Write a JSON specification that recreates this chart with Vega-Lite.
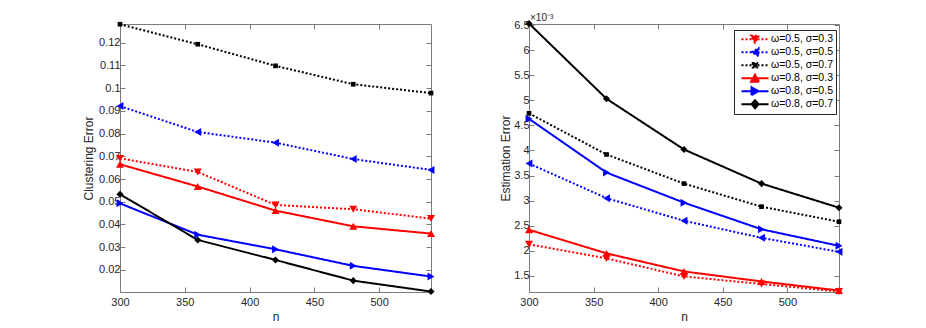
{
  "$schema": "https://vega.github.io/schema/vega-lite/v6.json",
  "background": "white",
  "padding": {"left": 82, "top": 12, "right": 5, "bottom": 2},
  "config": {
    "font": "Liberation Sans",
    "view": {"stroke": "#7a7a7a", "strokeWidth": 1},
    "axis": {
      "domain": false,
      "grid": false,
      "tickSize": -5,
      "tickColor": "#7a7a7a",
      "labelFontSize": 11,
      "labelColor": "#262626",
      "titleFontSize": 12,
      "titleFontWeight": "normal",
      "titleColor": "#262626",
      "labelFlush": false,
      "labelOverlap": false
    }
  },
  "data": {
    "values": [
      {"n": 300, "series": "ω=0.5, σ=0.3", "ce": 0.0691, "ee": 2.13},
      {"n": 360, "series": "ω=0.5, σ=0.3", "ce": 0.0631, "ee": 1.85},
      {"n": 420, "series": "ω=0.5, σ=0.3", "ce": 0.0486, "ee": 1.49},
      {"n": 480, "series": "ω=0.5, σ=0.3", "ce": 0.0467, "ee": 1.34},
      {"n": 540, "series": "ω=0.5, σ=0.3", "ce": 0.0426, "ee": 1.19},
      {"n": 300, "series": "ω=0.5, σ=0.5", "ce": 0.0921, "ee": 3.74},
      {"n": 360, "series": "ω=0.5, σ=0.5", "ce": 0.0807, "ee": 3.05},
      {"n": 420, "series": "ω=0.5, σ=0.5", "ce": 0.0760, "ee": 2.60},
      {"n": 480, "series": "ω=0.5, σ=0.5", "ce": 0.0688, "ee": 2.26},
      {"n": 540, "series": "ω=0.5, σ=0.5", "ce": 0.0640, "ee": 1.98},
      {"n": 300, "series": "ω=0.5, σ=0.7", "ce": 0.1281, "ee": 4.74},
      {"n": 360, "series": "ω=0.5, σ=0.7", "ce": 0.1193, "ee": 3.92},
      {"n": 420, "series": "ω=0.5, σ=0.7", "ce": 0.1098, "ee": 3.34},
      {"n": 480, "series": "ω=0.5, σ=0.7", "ce": 0.1017, "ee": 2.88},
      {"n": 540, "series": "ω=0.5, σ=0.7", "ce": 0.0978, "ee": 2.58},
      {"n": 300, "series": "ω=0.8, σ=0.3", "ce": 0.0665, "ee": 2.42},
      {"n": 360, "series": "ω=0.8, σ=0.3", "ce": 0.0567, "ee": 1.95},
      {"n": 420, "series": "ω=0.8, σ=0.3", "ce": 0.0461, "ee": 1.59},
      {"n": 480, "series": "ω=0.8, σ=0.3", "ce": 0.0392, "ee": 1.39},
      {"n": 540, "series": "ω=0.8, σ=0.3", "ce": 0.0360, "ee": 1.21},
      {"n": 300, "series": "ω=0.8, σ=0.5", "ce": 0.0493, "ee": 4.63},
      {"n": 360, "series": "ω=0.8, σ=0.5", "ce": 0.0355, "ee": 3.56},
      {"n": 420, "series": "ω=0.8, σ=0.5", "ce": 0.0291, "ee": 2.96},
      {"n": 480, "series": "ω=0.8, σ=0.5", "ce": 0.0218, "ee": 2.43},
      {"n": 540, "series": "ω=0.8, σ=0.5", "ce": 0.0171, "ee": 2.10},
      {"n": 300, "series": "ω=0.8, σ=0.7", "ce": 0.0533, "ee": 6.53},
      {"n": 360, "series": "ω=0.8, σ=0.7", "ce": 0.0332, "ee": 5.03},
      {"n": 420, "series": "ω=0.8, σ=0.7", "ce": 0.0244, "ee": 4.02},
      {"n": 480, "series": "ω=0.8, σ=0.7", "ce": 0.0153, "ee": 3.34},
      {"n": 540, "series": "ω=0.8, σ=0.7", "ce": 0.0105, "ee": 2.86}
    ]
  },
  "bounds": "flush",
  "spacing": 98,
  "resolve": {"scale": {"color": "independent", "shape": "independent", "strokeDash": "independent", "size": "independent"}},
  "hconcat": [
    {
      "width": 311,
      "height": 268,
      "resolve": {"axis": {"x": "independent", "y": "independent"}},
      "layer": [
        {
          "mark": {"type": "line", "strokeWidth": 2},
          "encoding": {
            "x": {"field": "n", "type": "quantitative", "scale": {"domain": [300, 540], "nice": false}, "axis": {"values": [300, 350, 400, 450, 500], "title": "n", "labelPadding": 9, "titlePadding": 4}},
            "y": {"field": "ce", "type": "quantitative", "scale": {"domain": [0.0103, 0.1282], "nice": false, "zero": false}, "axis": {"values": [0.02, 0.03, 0.04, 0.05, 0.06, 0.07, 0.08, 0.09, 0.1, 0.11, 0.12], "format": ".2~g", "title": "Clustering Error", "labelPadding": 5, "titlePadding": 3}},
            "color": {"field": "series", "type": "nominal", "scale": {"range": ["#ff0000", "#0000ff", "#000000", "#ff0000", "#0000ff", "#000000"]}, "legend": null},
            "strokeDash": {"field": "series", "type": "nominal", "scale": {"range": [[2, 2], [2, 2], [2, 2], [1, 0], [1, 0], [1, 0]]}, "legend": null}
          }
        },
        {
          "mark": {"type": "point", "filled": true, "opacity": 1, "strokeWidth": 0},
          "encoding": {
            "x": {"field": "n", "type": "quantitative", "axis": null},
            "y": {"field": "ce", "type": "quantitative", "axis": null},
            "color": {"field": "series", "type": "nominal", "scale": {"range": ["#ff0000", "#0000ff", "#000000", "#ff0000", "#0000ff", "#000000"]}, "legend": null},
            "shape": {"field": "series", "type": "nominal", "scale": {"range": ["triangle-down", "triangle-left", "square", "triangle-up", "triangle-right", "diamond"]}, "legend": null},
            "size": {"field": "series", "type": "ordinal", "scale": {"type": "ordinal", "range": [64, 64, 22, 64, 64, 50]}, "legend": null}
          }
        },
        {
          "mark": {"type": "point", "opacity": 0},
          "encoding": {
            "x": {"field": "n", "type": "quantitative", "axis": {"orient": "top", "values": [300, 350, 400, 450, 500], "labels": false, "title": null}},
            "y": {"field": "ce", "type": "quantitative", "axis": {"orient": "right", "values": [0.02, 0.03, 0.04, 0.05, 0.06, 0.07, 0.08, 0.09, 0.1, 0.11, 0.12], "labels": false, "title": null}}
          }
        }
      ]
    },
    {
      "width": 310,
      "height": 268,
      "title": {"text": "×10⁻³", "anchor": "start", "frame": "group", "fontSize": 10, "fontWeight": "normal", "color": "#262626", "offset": -4, "dx": 1},
      "resolve": {"axis": {"x": "independent", "y": "independent"}},
      "layer": [
        {
          "mark": {"type": "line", "strokeWidth": 2},
          "encoding": {
            "x": {"field": "n", "type": "quantitative", "scale": {"domain": [300, 540], "nice": false}, "axis": {"values": [300, 350, 400, 450, 500], "title": "n", "labelPadding": 9, "titlePadding": 4}},
            "y": {"field": "ee", "type": "quantitative", "scale": {"domain": [1.18, 6.52], "nice": false, "zero": false}, "axis": {"values": [1.5, 2, 2.5, 3, 3.5, 4, 4.5, 5, 5.5, 6, 6.5], "format": ".2~g", "title": "Estimation Error", "labelPadding": 5, "titlePadding": 1}},
            "color": {
              "field": "series", "type": "nominal",
              "scale": {"range": ["#ff0000", "#0000ff", "#000000", "#ff0000", "#0000ff", "#000000"]},
              "legend": {
                "title": null,
                "orient": "none",
                "legendX": 205,
                "legendY": 6,
                "direction": "vertical",
                "strokeColor": "#262626",
                "fillColor": "white",
                "padding": 3,
                "rowPadding": 0,
                "clipHeight": 12.4,
                "symbolSize": 100,
                "symbolOffset": 12,
                "labelOffset": 10,
                "symbolStrokeWidth": 2,
                "labelFontSize": 10.5,
                "labelColor": "#000000",
                "labelFont": "Liberation Sans",
                "encode": {
                  "symbols": {
                    "update": {
                      "shape": {"signal": "['M-2.7,0H2.7M-0.8,-0.7L0.8,-0.7L0,0.7Z','M-2.7,0H2.7M0.7,-0.8L0.7,0.8L-0.7,0Z','M-2.7,0H2.7M-0.45,-0.45H0.45V0.45H-0.45Z','M-2.7,0H2.7M-0.8,0.7L0.8,0.7L0,-0.7Z','M-2.7,0H2.7M-0.7,-0.8L-0.7,0.8L0.7,0Z','M-2.7,0H2.7M0,-0.8L0.7,0L0,0.8L-0.7,0Z'][datum.index]"},
                      "fill": {"signal": "['#ff0000','#0000ff','#000000','#ff0000','#0000ff','#000000'][datum.index]"},
                      "stroke": {"signal": "['#ff0000','#0000ff','#000000','#ff0000','#0000ff','#000000'][datum.index]"},
                      "strokeDash": {"signal": "datum.index < 3 ? [2, 2] : [1, 0]"},
                      "strokeWidth": {"value": 2},
                      "opacity": {"value": 1}
                    }
                  }
                }
              }
            },
            "strokeDash": {"field": "series", "type": "nominal", "scale": {"range": [[2, 2], [2, 2], [2, 2], [1, 0], [1, 0], [1, 0]]}, "legend": null}
          }
        },
        {
          "mark": {"type": "point", "filled": true, "opacity": 1, "strokeWidth": 0},
          "encoding": {
            "x": {"field": "n", "type": "quantitative", "axis": null},
            "y": {"field": "ee", "type": "quantitative", "axis": null},
            "color": {"field": "series", "type": "nominal"},
            "shape": {"field": "series", "type": "nominal", "scale": {"range": ["triangle-down", "triangle-left", "square", "triangle-up", "triangle-right", "diamond"]}, "legend": null},
            "size": {"field": "series", "type": "ordinal", "scale": {"type": "ordinal", "range": [64, 64, 22, 64, 64, 50]}, "legend": null}
          }
        },
        {
          "mark": {"type": "point", "opacity": 0},
          "encoding": {
            "x": {"field": "n", "type": "quantitative", "axis": {"orient": "top", "values": [300, 350, 400, 450, 500], "labels": false, "title": null}},
            "y": {"field": "ee", "type": "quantitative", "axis": {"orient": "right", "values": [1.5, 2, 2.5, 3, 3.5, 4, 4.5, 5, 5.5, 6, 6.5], "labels": false, "title": null}}
          }
        }
      ]
    }
  ]
}
